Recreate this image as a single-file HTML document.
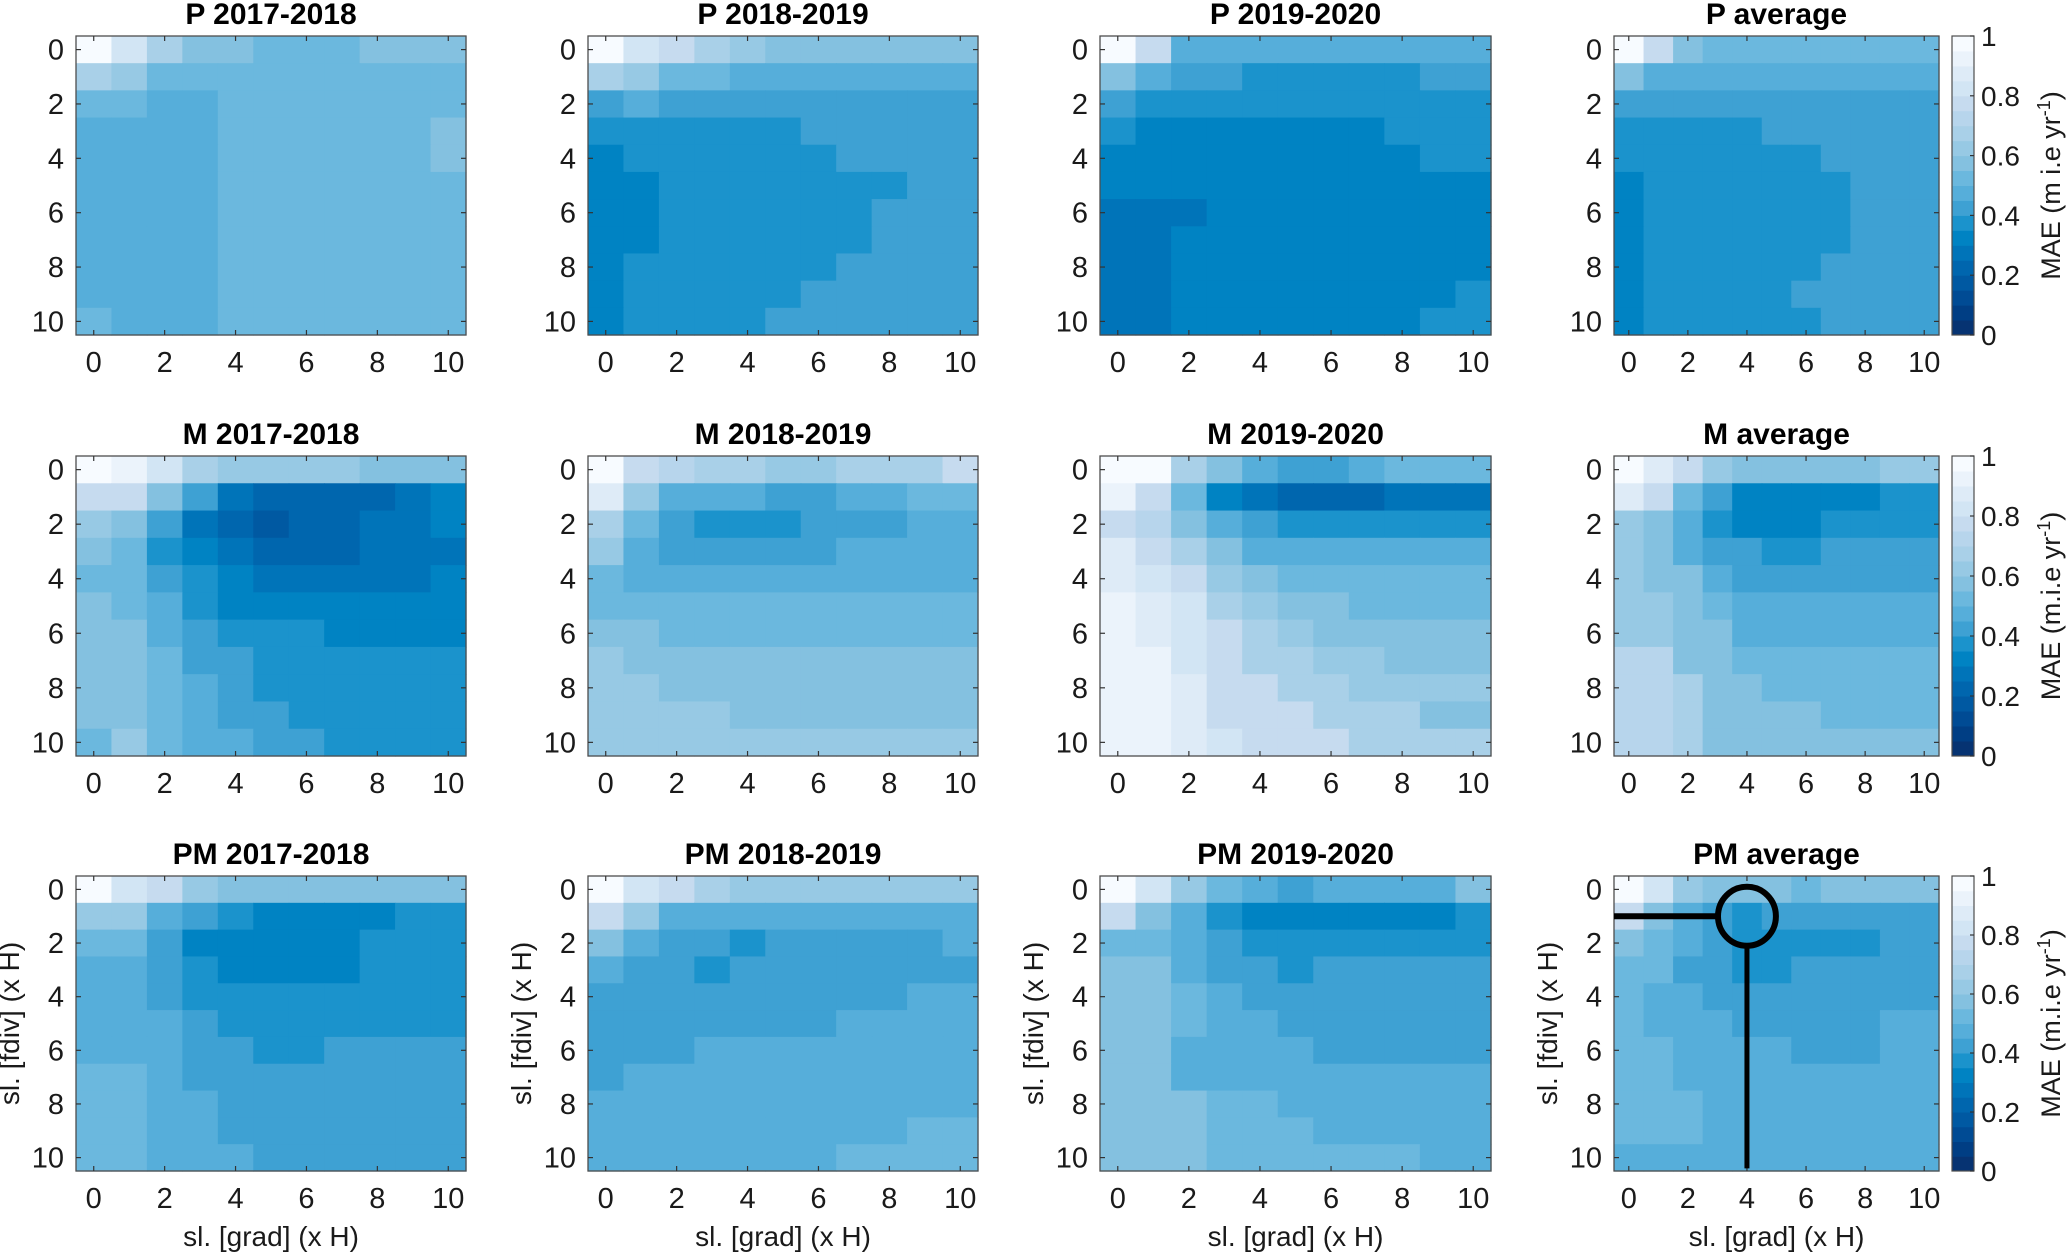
<!DOCTYPE html>
<html><head><meta charset="utf-8"><style>
html,body{margin:0;padding:0;background:#fff;}
svg{display:block;font-family:"Liberation Sans",Arial,sans-serif;}
</style></head><body>
<svg id="fig" width="2067" height="1254" viewBox="0 0 2067 1254" xmlns="http://www.w3.org/2000/svg"></svg>
<script>
// ---- data ----
const xTicks = [0,2,4,6,8,10];
const yTicks = [0,2,4,6,8,10];
const cbTicks = [0,0.2,0.4,0.6,0.8,1];
const cbTickLabels = ["0","0.2","0.4","0.6","0.8","1"];
const titles = ["P 2017-2018","P 2018-2019","P 2019-2020","P average",
"M 2017-2018","M 2018-2019","M 2019-2020","M average",
"PM 2017-2018","PM 2018-2019","PM 2019-2020","PM average"];
const cbLabels = ["MAE (m i.e yr","MAE (m.i.e yr","MAE (m.i.e yr"];

const P1718 = [
[1.0,0.85,0.7,0.6,0.6,0.55,0.55,0.55,0.6,0.6,0.6],
[0.7,0.65,0.55,0.55,0.55,0.55,0.55,0.55,0.55,0.55,0.55],
[0.55,0.55,0.5,0.5,0.55,0.55,0.55,0.55,0.55,0.55,0.55],
[0.5,0.5,0.5,0.5,0.55,0.55,0.55,0.55,0.55,0.55,0.6],
[0.5,0.5,0.5,0.5,0.55,0.55,0.55,0.55,0.55,0.55,0.6],
[0.5,0.5,0.5,0.5,0.55,0.55,0.55,0.55,0.55,0.55,0.55],
[0.5,0.5,0.5,0.5,0.55,0.55,0.55,0.55,0.55,0.55,0.55],
[0.5,0.5,0.5,0.5,0.55,0.55,0.55,0.55,0.55,0.55,0.55],
[0.5,0.5,0.5,0.5,0.55,0.55,0.55,0.55,0.55,0.55,0.55],
[0.5,0.5,0.5,0.5,0.55,0.55,0.55,0.55,0.55,0.55,0.55],
[0.55,0.5,0.5,0.5,0.55,0.55,0.55,0.55,0.55,0.55,0.55]];
const P1819 = [
[1.0,0.85,0.8,0.7,0.65,0.6,0.6,0.6,0.6,0.6,0.6],
[0.7,0.65,0.55,0.55,0.5,0.5,0.5,0.5,0.5,0.5,0.5],
[0.45,0.5,0.45,0.45,0.45,0.45,0.45,0.45,0.45,0.45,0.45],
[0.4,0.4,0.4,0.4,0.4,0.4,0.45,0.45,0.45,0.45,0.45],
[0.35,0.4,0.4,0.4,0.4,0.4,0.4,0.45,0.45,0.45,0.45],
[0.35,0.35,0.4,0.4,0.4,0.4,0.4,0.4,0.4,0.45,0.45],
[0.35,0.35,0.4,0.4,0.4,0.4,0.4,0.4,0.45,0.45,0.45],
[0.35,0.35,0.4,0.4,0.4,0.4,0.4,0.4,0.45,0.45,0.45],
[0.35,0.4,0.4,0.4,0.4,0.4,0.4,0.45,0.45,0.45,0.45],
[0.35,0.4,0.4,0.4,0.4,0.4,0.45,0.45,0.45,0.45,0.45],
[0.35,0.4,0.4,0.4,0.4,0.45,0.45,0.45,0.45,0.45,0.45]];
const P1920 = [
[1.0,0.8,0.5,0.5,0.5,0.5,0.5,0.5,0.5,0.5,0.5],
[0.6,0.5,0.45,0.45,0.4,0.4,0.4,0.4,0.4,0.45,0.45],
[0.45,0.4,0.4,0.4,0.4,0.4,0.4,0.4,0.4,0.4,0.4],
[0.4,0.35,0.35,0.35,0.35,0.35,0.35,0.35,0.4,0.4,0.4],
[0.35,0.35,0.35,0.35,0.35,0.35,0.35,0.35,0.35,0.4,0.4],
[0.35,0.35,0.35,0.35,0.35,0.35,0.35,0.35,0.35,0.35,0.35],
[0.3,0.3,0.3,0.35,0.35,0.35,0.35,0.35,0.35,0.35,0.35],
[0.3,0.3,0.35,0.35,0.35,0.35,0.35,0.35,0.35,0.35,0.35],
[0.3,0.3,0.35,0.35,0.35,0.35,0.35,0.35,0.35,0.35,0.35],
[0.3,0.3,0.35,0.35,0.35,0.35,0.35,0.35,0.35,0.35,0.4],
[0.3,0.3,0.35,0.35,0.35,0.35,0.35,0.35,0.35,0.4,0.4]];
const Pavg = [
[1.0,0.8,0.6,0.55,0.55,0.55,0.55,0.55,0.55,0.55,0.55],
[0.6,0.5,0.5,0.5,0.5,0.5,0.5,0.5,0.5,0.5,0.5],
[0.45,0.45,0.45,0.45,0.45,0.45,0.45,0.45,0.45,0.45,0.45],
[0.4,0.4,0.4,0.4,0.4,0.45,0.45,0.45,0.45,0.45,0.45],
[0.4,0.4,0.4,0.4,0.4,0.4,0.4,0.45,0.45,0.45,0.45],
[0.35,0.4,0.4,0.4,0.4,0.4,0.4,0.4,0.45,0.45,0.45],
[0.35,0.4,0.4,0.4,0.4,0.4,0.4,0.4,0.45,0.45,0.45],
[0.35,0.4,0.4,0.4,0.4,0.4,0.4,0.4,0.45,0.45,0.45],
[0.35,0.4,0.4,0.4,0.4,0.4,0.4,0.45,0.45,0.45,0.45],
[0.35,0.4,0.4,0.4,0.4,0.4,0.45,0.45,0.45,0.45,0.45],
[0.35,0.4,0.4,0.4,0.4,0.4,0.4,0.45,0.45,0.45,0.45]];
const M1718 = [
[1.0,0.95,0.85,0.7,0.65,0.65,0.65,0.65,0.6,0.6,0.6],
[0.8,0.8,0.6,0.45,0.3,0.25,0.25,0.25,0.25,0.3,0.35],
[0.65,0.6,0.45,0.3,0.25,0.2,0.25,0.25,0.3,0.3,0.35],
[0.6,0.55,0.4,0.35,0.3,0.25,0.25,0.25,0.3,0.3,0.3],
[0.55,0.55,0.45,0.4,0.35,0.3,0.3,0.3,0.3,0.3,0.35],
[0.6,0.55,0.5,0.4,0.35,0.35,0.35,0.35,0.35,0.35,0.35],
[0.6,0.6,0.5,0.45,0.4,0.4,0.4,0.35,0.35,0.35,0.35],
[0.6,0.6,0.55,0.45,0.45,0.4,0.4,0.4,0.4,0.4,0.4],
[0.6,0.6,0.55,0.5,0.45,0.4,0.4,0.4,0.4,0.4,0.4],
[0.6,0.6,0.55,0.5,0.45,0.45,0.4,0.4,0.4,0.4,0.4],
[0.55,0.65,0.55,0.5,0.5,0.45,0.45,0.4,0.4,0.4,0.4]];
const M1819 = [
[1.0,0.8,0.75,0.7,0.7,0.65,0.65,0.7,0.7,0.7,0.8],
[0.9,0.65,0.5,0.5,0.5,0.45,0.45,0.5,0.5,0.55,0.55],
[0.7,0.55,0.45,0.4,0.4,0.4,0.45,0.45,0.45,0.5,0.5],
[0.65,0.5,0.45,0.45,0.45,0.45,0.45,0.5,0.5,0.5,0.5],
[0.55,0.5,0.5,0.5,0.5,0.5,0.5,0.5,0.5,0.5,0.5],
[0.55,0.55,0.55,0.55,0.55,0.55,0.55,0.55,0.55,0.55,0.55],
[0.6,0.6,0.55,0.55,0.55,0.55,0.55,0.55,0.55,0.55,0.55],
[0.65,0.6,0.6,0.6,0.6,0.6,0.6,0.6,0.6,0.6,0.6],
[0.65,0.65,0.6,0.6,0.6,0.6,0.6,0.6,0.6,0.6,0.6],
[0.65,0.65,0.65,0.65,0.6,0.6,0.6,0.6,0.6,0.6,0.6],
[0.65,0.65,0.65,0.65,0.65,0.65,0.65,0.65,0.65,0.65,0.65]];
const M1920 = [
[1.0,1.0,0.7,0.6,0.5,0.45,0.45,0.5,0.55,0.55,0.55],
[0.95,0.8,0.55,0.35,0.3,0.25,0.25,0.25,0.3,0.3,0.3],
[0.8,0.75,0.6,0.5,0.45,0.4,0.4,0.4,0.4,0.4,0.4],
[0.9,0.8,0.7,0.6,0.5,0.5,0.5,0.5,0.5,0.5,0.5],
[0.9,0.85,0.8,0.65,0.6,0.55,0.55,0.55,0.55,0.55,0.55],
[0.95,0.9,0.85,0.7,0.65,0.6,0.6,0.55,0.55,0.55,0.55],
[0.95,0.9,0.85,0.8,0.7,0.65,0.6,0.6,0.6,0.6,0.6],
[0.95,0.95,0.85,0.8,0.7,0.7,0.65,0.65,0.6,0.6,0.6],
[0.95,0.95,0.9,0.8,0.8,0.7,0.7,0.65,0.65,0.65,0.65],
[0.95,0.95,0.9,0.8,0.8,0.8,0.7,0.7,0.7,0.6,0.6],
[0.95,0.95,0.9,0.85,0.8,0.8,0.8,0.7,0.7,0.7,0.7]];
const Mavg = [
[1.0,0.9,0.8,0.65,0.6,0.6,0.6,0.6,0.6,0.65,0.65],
[0.9,0.8,0.55,0.45,0.35,0.35,0.35,0.35,0.35,0.4,0.4],
[0.65,0.6,0.5,0.4,0.35,0.35,0.35,0.4,0.4,0.4,0.4],
[0.65,0.6,0.5,0.45,0.45,0.4,0.4,0.45,0.45,0.45,0.45],
[0.65,0.6,0.6,0.5,0.45,0.45,0.45,0.45,0.45,0.45,0.45],
[0.65,0.65,0.6,0.55,0.5,0.5,0.5,0.5,0.5,0.5,0.5],
[0.65,0.65,0.6,0.6,0.5,0.5,0.5,0.5,0.5,0.5,0.5],
[0.75,0.75,0.6,0.6,0.55,0.55,0.55,0.55,0.55,0.55,0.55],
[0.75,0.75,0.7,0.6,0.6,0.55,0.55,0.55,0.55,0.55,0.55],
[0.75,0.75,0.7,0.6,0.6,0.6,0.6,0.55,0.55,0.55,0.55],
[0.75,0.75,0.7,0.6,0.6,0.6,0.6,0.6,0.6,0.6,0.6]];
const PM1718 = [
[1.0,0.85,0.8,0.65,0.6,0.6,0.6,0.6,0.6,0.6,0.6],
[0.65,0.65,0.5,0.45,0.4,0.35,0.35,0.35,0.35,0.4,0.4],
[0.55,0.55,0.45,0.35,0.35,0.35,0.35,0.35,0.4,0.4,0.4],
[0.5,0.5,0.45,0.4,0.35,0.35,0.35,0.35,0.4,0.4,0.4],
[0.5,0.5,0.45,0.4,0.4,0.4,0.4,0.4,0.4,0.4,0.4],
[0.5,0.5,0.5,0.45,0.4,0.4,0.4,0.4,0.4,0.4,0.4],
[0.5,0.5,0.5,0.45,0.45,0.4,0.4,0.45,0.45,0.45,0.45],
[0.55,0.55,0.5,0.45,0.45,0.45,0.45,0.45,0.45,0.45,0.45],
[0.55,0.55,0.5,0.5,0.45,0.45,0.45,0.45,0.45,0.45,0.45],
[0.55,0.55,0.5,0.5,0.45,0.45,0.45,0.45,0.45,0.45,0.45],
[0.55,0.55,0.5,0.5,0.5,0.45,0.45,0.45,0.45,0.45,0.45]];
const PM1819 = [
[1.0,0.85,0.8,0.7,0.65,0.65,0.65,0.65,0.65,0.65,0.65],
[0.8,0.65,0.5,0.5,0.5,0.5,0.5,0.5,0.5,0.5,0.5],
[0.6,0.5,0.45,0.45,0.4,0.45,0.45,0.45,0.45,0.45,0.5],
[0.5,0.45,0.45,0.4,0.45,0.45,0.45,0.45,0.45,0.45,0.45],
[0.45,0.45,0.45,0.45,0.45,0.45,0.45,0.45,0.45,0.5,0.5],
[0.45,0.45,0.45,0.45,0.45,0.45,0.45,0.5,0.5,0.5,0.5],
[0.45,0.45,0.45,0.5,0.5,0.5,0.5,0.5,0.5,0.5,0.5],
[0.45,0.5,0.5,0.5,0.5,0.5,0.5,0.5,0.5,0.5,0.5],
[0.5,0.5,0.5,0.5,0.5,0.5,0.5,0.5,0.5,0.5,0.5],
[0.5,0.5,0.5,0.5,0.5,0.5,0.5,0.5,0.5,0.55,0.55],
[0.5,0.5,0.5,0.5,0.5,0.5,0.5,0.55,0.55,0.55,0.55]];
const PM1920 = [
[1.0,0.85,0.65,0.55,0.5,0.45,0.5,0.5,0.5,0.5,0.6],
[0.8,0.6,0.5,0.4,0.35,0.35,0.35,0.35,0.35,0.35,0.4],
[0.55,0.55,0.5,0.45,0.4,0.4,0.4,0.4,0.4,0.4,0.4],
[0.6,0.6,0.5,0.45,0.45,0.4,0.45,0.45,0.45,0.45,0.45],
[0.6,0.6,0.55,0.5,0.45,0.45,0.45,0.45,0.45,0.45,0.45],
[0.6,0.6,0.55,0.5,0.5,0.45,0.45,0.45,0.45,0.45,0.45],
[0.6,0.6,0.5,0.5,0.5,0.5,0.45,0.45,0.45,0.45,0.45],
[0.6,0.6,0.5,0.5,0.5,0.5,0.5,0.5,0.5,0.5,0.5],
[0.6,0.6,0.6,0.55,0.55,0.5,0.5,0.5,0.5,0.5,0.5],
[0.6,0.6,0.6,0.55,0.55,0.55,0.5,0.5,0.5,0.5,0.5],
[0.6,0.6,0.6,0.55,0.55,0.55,0.55,0.55,0.55,0.5,0.5]];
const PMavg = [
[1.0,0.85,0.65,0.6,0.6,0.6,0.55,0.6,0.6,0.6,0.6],
[0.8,0.6,0.5,0.45,0.4,0.45,0.45,0.45,0.45,0.45,0.45],
[0.6,0.55,0.5,0.45,0.4,0.4,0.4,0.4,0.4,0.45,0.45],
[0.55,0.55,0.45,0.45,0.4,0.4,0.45,0.45,0.45,0.45,0.45],
[0.55,0.5,0.5,0.45,0.45,0.45,0.45,0.45,0.45,0.45,0.45],
[0.55,0.5,0.5,0.5,0.45,0.45,0.45,0.45,0.45,0.5,0.5],
[0.55,0.55,0.5,0.5,0.5,0.5,0.45,0.45,0.45,0.5,0.5],
[0.55,0.55,0.5,0.5,0.5,0.5,0.5,0.5,0.5,0.5,0.5],
[0.55,0.55,0.55,0.5,0.5,0.5,0.5,0.5,0.5,0.5,0.5],
[0.55,0.55,0.55,0.5,0.5,0.5,0.5,0.5,0.5,0.5,0.5],
[0.5,0.5,0.5,0.5,0.5,0.5,0.5,0.5,0.5,0.5,0.5]];
const panelData = [P1718,P1819,P1920,Pavg,M1718,M1819,M1920,Mavg,PM1718,PM1819,PM1920,PMavg];
const markerPoint = [4,1];

// ---- layout / style ----
const palette = ["#082b63","#063372","#003e84","#004b94","#0059a2","#0066ae","#0074b9","#0083c3","#1b93cc","#3ea1d3","#56aeda","#6bb8de","#84c1e0","#97c9e4","#a9d0e8","#b7d5ec","#c6dbef","#d2e5f4","#deebf7","#ebf3fb","#f7fbff"];
function colorOf(v){let k=Math.round(v*20);k=Math.max(0,Math.min(20,k));return palette[k];}
const colX = [[76,466],[588,978],[1100,1491],[1614,1939]];
const rowY = [[36,335],[456,756],[876,1171]];
const NS = "http://www.w3.org/2000/svg";
const svg = document.getElementById('fig');
function mk(tag, attrs, parent){const e=document.createElementNS(NS,tag);for(const k in attrs)e.setAttribute(k,attrs[k]);(parent||svg).appendChild(e);return e;}

for(let p=0;p<12;p++){
  const r=Math.floor(p/4), c=p%4;
  const [x0,x1]=colX[c], [y0,y1]=rowY[r];
  const cw=(x1-x0)/11, ch=(y1-y0)/11;
  const xs=v=>x0+(v+0.5)*cw, ys=v=>y0+(v+0.5)*ch;
  const g=mk('g',{});
  
  
  const data=panelData[p];
  for(let i=0;i<11;i++)for(let j=0;j<11;j++){
    const cell=mk('rect',{x:(xs(j-0.5)).toFixed(2),y:(ys(i-0.5)).toFixed(2),width:(cw+0.6).toFixed(2),height:(ch+0.6).toFixed(2),fill:colorOf(data[i][j])},g);
    
    
  }
  const frame=mk('rect',{x:x0,y:y0,width:x1-x0,height:y1-y0,fill:'none',stroke:'#4d4d4d','stroke-width':1.3},g);
  
  
  xTicks.forEach(t=>{
    mk('line',{x1:xs(t),x2:xs(t),y1:y1,y2:y1-5,stroke:'#333','stroke-width':1.2},g);
    mk('line',{x1:xs(t),x2:xs(t),y1:y0,y2:y0+5,stroke:'#333','stroke-width':1.2},g);
    const tl=mk('text',{x:xs(t),y:y1+37,'text-anchor':'middle','font-size':29,fill:'#1a1a1a'},g);
    tl.textContent=t;
    
    
  });
  yTicks.forEach(t=>{
    mk('line',{x1:x0,x2:x0+5,y1:ys(t),y2:ys(t),stroke:'#333','stroke-width':1.2},g);
    mk('line',{x1:x1,x2:x1-5,y1:ys(t),y2:ys(t),stroke:'#333','stroke-width':1.2},g);
    const tl=mk('text',{x:x0-12,y:ys(t)+10,'text-anchor':'end','font-size':29,fill:'#1a1a1a'},g);
    tl.textContent=t;
    
    
  });
  const tt=mk('text',{x:(x0+x1)/2,y:y0-12,'text-anchor':'middle','font-size':30,'font-weight':'bold',fill:'#000'},g);
  tt.textContent=titles[p];
  
  
  if(r===2){
    const xl=mk('text',{x:(x0+x1)/2,y:1246,'text-anchor':'middle','font-size':28,fill:'#1a1a1a'},g);
    xl.textContent='sl. [grad] (x H)';
    
    
    const cx=x0-57, cy=(y0+y1)/2;
    const yl=mk('text',{x:cx,y:cy,'text-anchor':'middle','font-size':28,fill:'#1a1a1a',transform:`rotate(-90 ${cx} ${cy})`},g);
    yl.textContent='sl. [fdiv] (x H)';
    
    
  }
  if(c===3){
    const bx=1952,bw=22;
    const cb=mk('g',{});
    
    
    const cv=v=>y1-(y1-y0)*v;
    for(let k=0;k<20;k++){
      mk('rect',{x:bx,y:cv((k+1)/20).toFixed(2),width:bw,height:((y1-y0)/20+0.5).toFixed(2),fill:palette[k+1]},cb);
    }
    mk('rect',{x:bx,y:y0,width:bw,height:y1-y0,fill:'none',stroke:'#4d4d4d','stroke-width':1.2},cb);
    cbTicks.forEach((t,i)=>{
      mk('line',{x1:bx+bw,x2:bx+bw-4,y1:cv(t),y2:cv(t),stroke:'#333','stroke-width':1.2},cb);
      const tl=mk('text',{x:bx+bw+7,y:cv(t)+10,'font-size':28,fill:'#1a1a1a'},cb);
      tl.textContent=cbTickLabels[i];
      
      
    });
    const lx=2060, ly=(y0+y1)/2;
    const lab=mk('text',{x:lx,y:ly,'text-anchor':'middle','font-size':27,fill:'#1a1a1a',transform:`rotate(-90 ${lx} ${ly})`},cb);
    lab.textContent=cbLabels[r];
    const sup=mk('tspan',{dy:-10,'font-size':18},lab);
    sup.textContent='-1';
    const cl=mk('tspan',{dy:10},lab);
    cl.textContent=')';
    
    
  }
  if(p===11){
    const [mx,my]=markerPoint;
    const rx=cw*0.98, ry=ch*1.1;
    const ov=mk('g',{stroke:'#000',fill:'none'},g);
    
    
    mk('line',{x1:x0,x2:xs(mx)-rx,y1:ys(my),y2:ys(my),'stroke-width':6},ov);
    mk('ellipse',{cx:xs(mx),cy:ys(my),rx:rx,ry:ry,'stroke-width':6},ov);
    mk('line',{x1:xs(mx),x2:xs(mx),y1:ys(my)+ry,y2:ys(10.4),'stroke-width':5},ov);
  }
}
</script>
</body></html>
